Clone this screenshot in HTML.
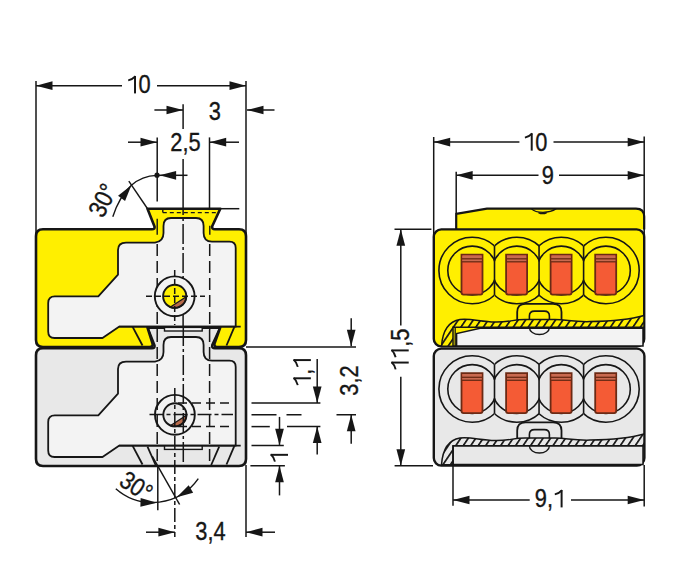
<!DOCTYPE html>
<html><head><meta charset="utf-8"><style>
html,body{margin:0;padding:0;background:#fff;font-family:"Liberation Sans",sans-serif;overflow:hidden;}
svg{display:block;}
</style></head><body>
<svg width="697" height="579" viewBox="0 0 697 579">
<defs><clipPath id="rc0_0"><rect x="430" y="230.5" width="64.5" height="80"/></clipPath><clipPath id="rc0_1"><rect x="494.5" y="230.5" width="44.549999999999955" height="80"/></clipPath><clipPath id="rc0_2"><rect x="539.05" y="230.5" width="44.55000000000007" height="80"/></clipPath><clipPath id="rc0_3"><rect x="583.6" y="230.5" width="66.39999999999998" height="80"/></clipPath><clipPath id="rc118_0"><rect x="430" y="349.0" width="64.5" height="80"/></clipPath><clipPath id="rc118_1"><rect x="494.5" y="349.0" width="44.549999999999955" height="80"/></clipPath><clipPath id="rc118_2"><rect x="539.05" y="349.0" width="44.55000000000007" height="80"/></clipPath><clipPath id="rc118_3"><rect x="583.6" y="349.0" width="66.39999999999998" height="80"/></clipPath><pattern id="hatchY" patternUnits="userSpaceOnUse" width="6.2" height="6.2" patternTransform="rotate(34)">
<rect width="6.2" height="6.2" fill="#ffef00"/><rect width="1.7" height="6.2" fill="#161616"/></pattern><pattern id="hatchG" patternUnits="userSpaceOnUse" width="6.2" height="6.2" patternTransform="rotate(34)">
<rect width="6.2" height="6.2" fill="#e8e8e8"/><rect width="1.7" height="6.2" fill="#161616"/></pattern></defs>
<rect width="697" height="579" fill="#fff"/>
<path d="M43,348.3 H152 Q155,348.3 154.5,345.5 L147.5,327.7 H220.3 L212.3,345 Q211.5,348.3 215,348.3 H239 Q246,348.3 246,355.3 V459 Q246,466 239,466 H43 Q36,466 36,459 V355.3 Q36,348.3 43,348.3 Z" fill="#e8e8e8" stroke="#161616" stroke-width="2.6" stroke-linejoin="round" />
<line x1="147.5" y1="446.6" x2="155.6" y2="465" stroke="#161616" stroke-width="1.8"/>
<line x1="219.2" y1="446.6" x2="211.2" y2="465" stroke="#161616" stroke-width="1.8"/>
<path d="M163.5,345 Q163.5,337 171,337 H196 Q203.6,337 203.6,345 V352 Q203.6,360.6 212,360.6 H229.5 Q235.7,360.6 235.7,367 V445.7 H119 L102.5,457 H54.5 Q48.2,457 48.2,450.5 V422 Q48.2,415.4 54.8,415.4 H98.3 L118,393.7 V369 Q118,361.6 126,361.6 H155 Q163.5,360.6 163.5,352 Z" fill="#f3f3f3" stroke="#161616" stroke-width="1.8" stroke-linejoin="round" />
<line x1="119" y1="445.7" x2="240.7" y2="445.7" stroke="#161616" stroke-width="1.8"/>
<line x1="132.5" y1="445.7" x2="142.5" y2="464.5" stroke="#161616" stroke-width="1.8"/>
<line x1="234.5" y1="445.7" x2="226.5" y2="464.5" stroke="#161616" stroke-width="1.8"/>
<path d="M43,229.3 H152 Q155,229.3 154.5,226.5 L147.5,208.7 H220.3 L212.3,226 Q211.5,229.3 215,229.3 H239 Q246,229.3 246,236.3 V340 Q246,347 239,347 H218 Q213.5,347 214.6,343.2 L220.2,327.6 H147.5 L152.4,343.2 Q153.5,347 149.5,347 H43 Q36,347 36,340 V236.3 Q36,229.3 43,229.3 Z" fill="#ffef00" stroke="#161616" stroke-width="2.6" stroke-linejoin="round" />
<path d="M163.5,226 Q163.5,218 171,218 H196 Q203.6,218 203.6,226 V233 Q203.6,241.6 212,241.6 H229.5 Q235.7,241.6 235.7,248 V326.7 H119 L102.5,338 H54.5 Q48.2,338 48.2,331.5 V303 Q48.2,296.4 54.8,296.4 H98.3 L118,274.7 V250 Q118,242.6 126,242.6 H155 Q163.5,241.6 163.5,233 Z" fill="#f3f3f3" stroke="#161616" stroke-width="1.8" stroke-linejoin="round" />
<line x1="119" y1="326.7" x2="240.7" y2="326.7" stroke="#161616" stroke-width="1.8"/>
<line x1="132.5" y1="326.7" x2="142.5" y2="345.5" stroke="#161616" stroke-width="1.8"/>
<line x1="234.5" y1="326.7" x2="226.5" y2="345.5" stroke="#161616" stroke-width="1.8"/>
<line x1="162.8" y1="208.7" x2="162.8" y2="212.6" stroke="#161616" stroke-width="1.4"/>
<line x1="162.8" y1="212.6" x2="216.5" y2="212.6" stroke="#161616" stroke-width="1.4" stroke-dasharray="4 3"/>
<rect x="164.5" y="327.4" width="37.7" height="3.6" fill="#f3f3f3" stroke="#161616" stroke-width="1.4"/>
<rect x="164.5" y="446" width="37.7" height="3.4" fill="#f3f3f3" stroke="#161616" stroke-width="1.4"/>
<line x1="157.2" y1="137.4" x2="157.2" y2="201.4" stroke="#161616" stroke-width="1.5"/>
<line x1="209.5" y1="137.4" x2="209.5" y2="208.7" stroke="#161616" stroke-width="1.5"/>
<line x1="220" y1="208.7" x2="239.3" y2="208.7" stroke="#161616" stroke-width="1.5"/>
<line x1="183.1" y1="104.3" x2="183.1" y2="129" stroke="#161616" stroke-width="1.5"/>
<line x1="183.1" y1="159" x2="183.1" y2="195" stroke="#161616" stroke-width="1.5"/>
<line x1="157.2" y1="244" x2="157.2" y2="330" stroke="#161616" stroke-width="1.5" stroke-dasharray="12 5"/>
<line x1="209.7" y1="244" x2="209.7" y2="330" stroke="#161616" stroke-width="1.5" stroke-dasharray="12 5"/>
<line x1="183.1" y1="195" x2="183.1" y2="326" stroke="#161616" stroke-width="1.5" stroke-dasharray="20 3 3 3"/>
<line x1="157.2" y1="218.8" x2="157.2" y2="234.7" stroke="#161616" stroke-width="1.4"/>
<line x1="209.8" y1="225.7" x2="209.8" y2="234.7" stroke="#161616" stroke-width="1.4"/>
<circle cx="174.7" cy="296.3" r="19.9" fill="#f3f3f3" stroke="#161616" stroke-width="1.9"/>
<circle cx="174.7" cy="296.3" r="11.6" fill="#ffef00"/>
<path d="M186.29,296.70 A11.6,11.6 0 0 1 170.35,307.06 Z" fill="#b86a4a" stroke="#161616" stroke-width="1.3"/>
<circle cx="174.7" cy="296.3" r="11.6" fill="none" stroke="#161616" stroke-width="1.9"/>
<circle cx="174.9" cy="414.8" r="19.9" fill="#f3f3f3" stroke="#161616" stroke-width="1.9"/>
<circle cx="174.9" cy="414.8" r="11.6" fill="#e9e9e9"/>
<path d="M186.49,415.20 A11.6,11.6 0 0 1 170.55,425.56 Z" fill="#b86a4a" stroke="#161616" stroke-width="1.3"/>
<circle cx="174.9" cy="414.8" r="11.6" fill="none" stroke="#161616" stroke-width="1.9"/>
<line x1="146" y1="296.3" x2="205" y2="296.3" stroke="#161616" stroke-width="1.5" stroke-dasharray="6 3"/>
<line x1="174.7" y1="270" x2="174.7" y2="325" stroke="#161616" stroke-width="1.5" stroke-dasharray="6 3"/>
<line x1="157.2" y1="330" x2="157.2" y2="465" stroke="#161616" stroke-width="1.5" stroke-dasharray="12 5"/>
<line x1="209.6" y1="330" x2="209.6" y2="465" stroke="#161616" stroke-width="1.5" stroke-dasharray="12 5"/>
<line x1="183.3" y1="326" x2="183.3" y2="464" stroke="#161616" stroke-width="1.5" stroke-dasharray="20 3 3 3"/>
<line x1="149.5" y1="414.5" x2="233" y2="414.5" stroke="#161616" stroke-width="1.5" stroke-dasharray="14 3 4 3"/>
<line x1="174.8" y1="388" x2="174.8" y2="537" stroke="#161616" stroke-width="1.5" stroke-dasharray="14 3 4 3"/>
<line x1="178" y1="402.9" x2="232" y2="402.9" stroke="#161616" stroke-width="1.5" stroke-dasharray="9 5"/>
<line x1="178" y1="426.6" x2="232" y2="426.6" stroke="#161616" stroke-width="1.5" stroke-dasharray="9 5"/>
<line x1="36" y1="81" x2="36" y2="238" stroke="#161616" stroke-width="1.5"/>
<line x1="246" y1="81" x2="246" y2="238" stroke="#161616" stroke-width="1.5"/>
<line x1="246" y1="465" x2="246" y2="537" stroke="#161616" stroke-width="1.5"/>
<line x1="36" y1="85.7" x2="122" y2="85.7" stroke="#161616" stroke-width="1.5"/>
<line x1="157" y1="85.7" x2="246" y2="85.7" stroke="#161616" stroke-width="1.5"/>
<polygon points="36.00,85.70 52.50,81.35 52.50,90.05" fill="#161616"/>
<polygon points="246.00,85.70 229.50,90.05 229.50,81.35" fill="#161616"/>
<g transform="translate(139.25,84.65) rotate(0) scale(0.86,1) translate(-14.88,8.76)"><path d="M9.96,0 V-17.40" fill="none" stroke="#161616" stroke-width="2.3"/><path d="M10.46,-17.14 Q7.62,-14.35 2.03,-13.08" fill="none" stroke="#161616" stroke-width="1.9"/><text x="14.12" y="0" font-size="25.4" font-family="Liberation Sans" fill="#161616" stroke="#161616" stroke-width="0.35">0</text></g>
<line x1="154.4" y1="110" x2="183" y2="110" stroke="#161616" stroke-width="1.5"/>
<polygon points="183.00,110.00 166.50,114.35 166.50,105.65" fill="#161616"/>
<line x1="247" y1="110" x2="274.5" y2="110" stroke="#161616" stroke-width="1.5"/>
<polygon points="247.00,110.00 263.50,105.65 263.50,114.35" fill="#161616"/>
<g transform="translate(214.65,111.3) rotate(0) scale(0.86,1) translate(-6.97,8.76)"><text x="0.00" y="0" font-size="25.4" font-family="Liberation Sans" fill="#161616" stroke="#161616" stroke-width="0.35">3</text></g>
<line x1="128" y1="142.2" x2="157" y2="142.2" stroke="#161616" stroke-width="1.5"/>
<polygon points="157.00,142.20 140.50,146.55 140.50,137.85" fill="#161616"/>
<line x1="209.7" y1="142.2" x2="239" y2="142.2" stroke="#161616" stroke-width="1.5"/>
<polygon points="209.70,142.20 226.20,137.85 226.20,146.55" fill="#161616"/>
<g transform="translate(185.6,142.7) rotate(0) scale(0.86,1) translate(-17.74,8.76)"><text x="0.00" y="0" font-size="25.4" font-family="Liberation Sans" fill="#161616" stroke="#161616" stroke-width="0.35">2</text><text x="14.12" y="0" font-size="25.4" font-family="Liberation Sans" fill="#161616" stroke="#161616" stroke-width="0.35">,</text><text x="21.18" y="0" font-size="25.4" font-family="Liberation Sans" fill="#161616" stroke="#161616" stroke-width="0.35">5</text></g>
<circle cx="157" cy="175.2" r="2.6" fill="#161616"/>
<line x1="159" y1="175.3" x2="187.5" y2="175.3" stroke="#161616" stroke-width="1.5"/>
<polygon points="159.60,175.30 176.10,170.95 176.10,179.65" fill="#161616"/>
<path d="M156.8,175.4 Q142,176 131.4,185.2 Q119,197 112.8,216.8" fill="none" stroke="#161616" stroke-width="1.4"/>
<polygon points="131.40,185.20 125.05,201.04 118.07,195.85" fill="#161616"/>
<line x1="128.8" y1="181.1" x2="148.4" y2="210" stroke="#161616" stroke-width="1.4"/>
<g transform="translate(102.55,200.45) rotate(-63) scale(0.86,1) translate(-18.91,8.76)"><text x="0.00" y="0" font-size="25.4" font-family="Liberation Sans" fill="#161616" stroke="#161616" stroke-width="0.35">3</text><text x="14.12" y="0" font-size="25.4" font-family="Liberation Sans" fill="#161616" stroke="#161616" stroke-width="0.35">0</text><text x="28.24" y="0" font-size="25.4" font-family="Liberation Sans" fill="#161616" stroke="#161616" stroke-width="0.35">°</text></g>
<line x1="246" y1="346.9" x2="356" y2="346.9" stroke="#161616" stroke-width="1.5"/>
<line x1="351.2" y1="318.3" x2="351.2" y2="346.3" stroke="#161616" stroke-width="1.5"/>
<polygon points="351.20,346.30 346.85,329.80 355.55,329.80" fill="#161616"/>
<g transform="translate(302.1,371.85) rotate(-90) scale(0.86,1) translate(-17.45,8.76)"><path d="M9.96,0 V-17.40" fill="none" stroke="#161616" stroke-width="2.3"/><path d="M10.46,-17.14 Q7.62,-14.35 2.03,-13.08" fill="none" stroke="#161616" stroke-width="1.9"/><text x="14.12" y="0" font-size="25.4" font-family="Liberation Sans" fill="#161616" stroke="#161616" stroke-width="0.35">,</text><path d="M31.14,0 V-17.40" fill="none" stroke="#161616" stroke-width="2.3"/><path d="M31.65,-17.14 Q28.80,-14.35 23.22,-13.08" fill="none" stroke="#161616" stroke-width="1.9"/></g>
<line x1="317.2" y1="359" x2="317.2" y2="402.9" stroke="#161616" stroke-width="1.5"/>
<polygon points="317.20,402.90 312.85,386.40 321.55,386.40" fill="#161616"/>
<line x1="251.5" y1="402.9" x2="320.4" y2="402.9" stroke="#161616" stroke-width="1.5"/>
<g transform="translate(349.7,380.7) rotate(-90) scale(0.86,1) translate(-17.49,8.76)"><text x="0.00" y="0" font-size="25.4" font-family="Liberation Sans" fill="#161616" stroke="#161616" stroke-width="0.35">3</text><text x="14.12" y="0" font-size="25.4" font-family="Liberation Sans" fill="#161616" stroke="#161616" stroke-width="0.35">,</text><text x="21.18" y="0" font-size="25.4" font-family="Liberation Sans" fill="#161616" stroke="#161616" stroke-width="0.35">2</text></g>
<line x1="251.5" y1="414.7" x2="356" y2="414.7" stroke="#161616" stroke-width="1.5" stroke-dasharray="25 10 15 35 20"/>
<line x1="351.2" y1="414.7" x2="351.2" y2="443.8" stroke="#161616" stroke-width="1.5"/>
<polygon points="351.20,414.70 355.55,431.20 346.85,431.20" fill="#161616"/>
<line x1="251.5" y1="426.6" x2="269.8" y2="426.6" stroke="#161616" stroke-width="1.5"/>
<line x1="287" y1="426.6" x2="320.4" y2="426.6" stroke="#161616" stroke-width="1.5"/>
<line x1="317.2" y1="426.6" x2="317.2" y2="454.6" stroke="#161616" stroke-width="1.5"/>
<polygon points="317.20,426.60 321.55,443.10 312.85,443.10" fill="#161616"/>
<line x1="279.5" y1="416.9" x2="279.5" y2="444.9" stroke="#161616" stroke-width="1.5"/>
<polygon points="279.50,445.30 275.15,428.80 283.85,428.80" fill="#161616"/>
<line x1="251.5" y1="445.5" x2="283.8" y2="445.5" stroke="#161616" stroke-width="1.5"/>
<g transform="translate(279.25,457.5) rotate(-90) scale(0.86,1) translate(-6.86,8.76)"><path d="M9.96,0 V-17.40" fill="none" stroke="#161616" stroke-width="2.3"/><path d="M10.46,-17.14 Q7.62,-14.35 2.03,-13.08" fill="none" stroke="#161616" stroke-width="1.9"/></g>
<line x1="250.4" y1="465.7" x2="284.9" y2="465.7" stroke="#161616" stroke-width="1.5"/>
<line x1="279.5" y1="465.7" x2="279.5" y2="495.4" stroke="#161616" stroke-width="1.5"/>
<polygon points="279.50,465.70 283.85,482.20 275.15,482.20" fill="#161616"/>
<line x1="157.8" y1="466" x2="157.8" y2="510.2" stroke="#161616" stroke-width="1.5"/>
<line x1="152.3" y1="456.4" x2="179.6" y2="504.5" stroke="#161616" stroke-width="1.5"/>
<path d="M115.8,488.7 A55.83,55.83 0 0 0 198.3,478.7" fill="none" stroke="#161616" stroke-width="1.4"/>
<polygon points="157.00,502.80 140.38,506.65 140.64,497.96" fill="#161616"/>
<polygon points="176.70,497.30 188.71,485.18 193.13,492.68" fill="#161616"/>
<g transform="translate(136.1,486) rotate(33) scale(0.86,1) translate(-18.91,8.76)"><text x="0.00" y="0" font-size="25.4" font-family="Liberation Sans" fill="#161616" stroke="#161616" stroke-width="0.35">3</text><text x="14.12" y="0" font-size="25.4" font-family="Liberation Sans" fill="#161616" stroke="#161616" stroke-width="0.35">0</text><text x="28.24" y="0" font-size="25.4" font-family="Liberation Sans" fill="#161616" stroke="#161616" stroke-width="0.35">°</text></g>
<line x1="146" y1="532.2" x2="174.9" y2="532.2" stroke="#161616" stroke-width="1.5"/>
<polygon points="174.90,532.20 158.40,536.55 158.40,527.85" fill="#161616"/>
<line x1="246" y1="532.2" x2="275" y2="532.2" stroke="#161616" stroke-width="1.5"/>
<polygon points="246.00,532.20 262.50,527.85 262.50,536.55" fill="#161616"/>
<g transform="translate(210.6,531.5) rotate(0) scale(0.86,1) translate(-17.75,8.76)"><text x="0.00" y="0" font-size="25.4" font-family="Liberation Sans" fill="#161616" stroke="#161616" stroke-width="0.35">3</text><text x="14.12" y="0" font-size="25.4" font-family="Liberation Sans" fill="#161616" stroke="#161616" stroke-width="0.35">,</text><text x="21.18" y="0" font-size="25.4" font-family="Liberation Sans" fill="#161616" stroke="#161616" stroke-width="0.35">4</text></g>
<path d="M456.2,229.4 V213.8 L487,208.6 H636 Q644.2,208.6 644.2,216.8 V229.4" fill="#ffef00" stroke="#161616" stroke-width="2.2" stroke-linejoin="round" />
<rect x="433.8" y="229.4" width="210.4" height="117" rx="7.5" fill="#ffef00" stroke="#161616" stroke-width="2.4"/>
<path d="M531.2,208.6 Q535,212.3 543,212.3 Q551,212.3 556.2,208.6" fill="none" stroke="#161616" stroke-width="1.3"/>
<path d="M538.5,212.6 Q542.6,214.8 546.7,212.6" fill="none" stroke="#161616" stroke-width="1.3"/>
<rect x="433.8" y="348.6" width="210.6" height="117" rx="7.5" fill="#e8e8e8" stroke="#161616" stroke-width="2.4"/>
<g clip-path="url(#rc0_0)"><circle cx="472.2" cy="270.5" r="33.3" fill="none" stroke="#161616" stroke-width="1.6"/><circle cx="472.2" cy="270.5" r="24.4" fill="none" stroke="#161616" stroke-width="1.6"/></g>
<g clip-path="url(#rc0_1)"><circle cx="516.8" cy="270.5" r="33.3" fill="none" stroke="#161616" stroke-width="1.6"/><circle cx="516.8" cy="270.5" r="24.4" fill="none" stroke="#161616" stroke-width="1.6"/></g>
<g clip-path="url(#rc0_2)"><circle cx="561.3" cy="270.5" r="33.3" fill="none" stroke="#161616" stroke-width="1.6"/><circle cx="561.3" cy="270.5" r="24.4" fill="none" stroke="#161616" stroke-width="1.6"/></g>
<g clip-path="url(#rc0_3)"><circle cx="605.9" cy="270.5" r="33.3" fill="none" stroke="#161616" stroke-width="1.6"/><circle cx="605.9" cy="270.5" r="24.4" fill="none" stroke="#161616" stroke-width="1.6"/></g>
<line x1="494.5" y1="245.9" x2="494.5" y2="295.1" stroke="#161616" stroke-width="1.6"/>
<line x1="539.05" y1="245.9" x2="539.05" y2="295.1" stroke="#161616" stroke-width="1.6"/>
<line x1="583.6" y1="245.9" x2="583.6" y2="295.1" stroke="#161616" stroke-width="1.6"/>
<path d="M461.5,254.6 H482.5 V292.6 Q482.5,294.6 480.5,294.6 H463.5 Q461.5,294.6 461.5,292.6 Z" fill="#f45b35" stroke="#6b2a14" stroke-width="1.8"/>
<rect x="462.4" y="255.5" width="19.2" height="6.6" fill="#c96a50"/>
<line x1="461.5" y1="258.8" x2="482.5" y2="258.8" stroke="#6b2a14" stroke-width="1.3"/>
<line x1="461.5" y1="261.8" x2="482.5" y2="261.8" stroke="#6b2a14" stroke-width="1.3"/>
<path d="M506.1,254.6 H527.1 V292.6 Q527.1,294.6 525.1,294.6 H508.1 Q506.1,294.6 506.1,292.6 Z" fill="#f45b35" stroke="#6b2a14" stroke-width="1.8"/>
<rect x="507.0" y="255.5" width="19.2" height="6.6" fill="#c96a50"/>
<line x1="506.09999999999997" y1="258.8" x2="527.0999999999999" y2="258.8" stroke="#6b2a14" stroke-width="1.3"/>
<line x1="506.09999999999997" y1="261.8" x2="527.0999999999999" y2="261.8" stroke="#6b2a14" stroke-width="1.3"/>
<path d="M550.6,254.6 H571.6 V292.6 Q571.6,294.6 569.6,294.6 H552.6 Q550.6,294.6 550.6,292.6 Z" fill="#f45b35" stroke="#6b2a14" stroke-width="1.8"/>
<rect x="551.5" y="255.5" width="19.2" height="6.6" fill="#c96a50"/>
<line x1="550.5999999999999" y1="258.8" x2="571.5999999999999" y2="258.8" stroke="#6b2a14" stroke-width="1.3"/>
<line x1="550.5999999999999" y1="261.8" x2="571.5999999999999" y2="261.8" stroke="#6b2a14" stroke-width="1.3"/>
<path d="M595.2,254.6 H616.2 V292.6 Q616.2,294.6 614.2,294.6 H597.2 Q595.2,294.6 595.2,292.6 Z" fill="#f45b35" stroke="#6b2a14" stroke-width="1.8"/>
<rect x="596.1" y="255.5" width="19.2" height="6.6" fill="#c96a50"/>
<line x1="595.1999999999999" y1="258.8" x2="616.1999999999999" y2="258.8" stroke="#6b2a14" stroke-width="1.3"/>
<line x1="595.1999999999999" y1="261.8" x2="616.1999999999999" y2="261.8" stroke="#6b2a14" stroke-width="1.3"/>
<g clip-path="url(#rc118_0)"><circle cx="472.2" cy="389.0" r="33.3" fill="none" stroke="#161616" stroke-width="1.6"/><circle cx="472.2" cy="389.0" r="24.4" fill="none" stroke="#161616" stroke-width="1.6"/></g>
<g clip-path="url(#rc118_1)"><circle cx="516.8" cy="389.0" r="33.3" fill="none" stroke="#161616" stroke-width="1.6"/><circle cx="516.8" cy="389.0" r="24.4" fill="none" stroke="#161616" stroke-width="1.6"/></g>
<g clip-path="url(#rc118_2)"><circle cx="561.3" cy="389.0" r="33.3" fill="none" stroke="#161616" stroke-width="1.6"/><circle cx="561.3" cy="389.0" r="24.4" fill="none" stroke="#161616" stroke-width="1.6"/></g>
<g clip-path="url(#rc118_3)"><circle cx="605.9" cy="389.0" r="33.3" fill="none" stroke="#161616" stroke-width="1.6"/><circle cx="605.9" cy="389.0" r="24.4" fill="none" stroke="#161616" stroke-width="1.6"/></g>
<line x1="494.5" y1="364.4" x2="494.5" y2="413.6" stroke="#161616" stroke-width="1.6"/>
<line x1="539.05" y1="364.4" x2="539.05" y2="413.6" stroke="#161616" stroke-width="1.6"/>
<line x1="583.6" y1="364.4" x2="583.6" y2="413.6" stroke="#161616" stroke-width="1.6"/>
<path d="M461.5,373.1 H482.5 V411.1 Q482.5,413.1 480.5,413.1 H463.5 Q461.5,413.1 461.5,411.1 Z" fill="#f45b35" stroke="#6b2a14" stroke-width="1.8"/>
<rect x="462.4" y="374.0" width="19.2" height="6.6" fill="#c96a50"/>
<line x1="461.5" y1="377.3" x2="482.5" y2="377.3" stroke="#6b2a14" stroke-width="1.3"/>
<line x1="461.5" y1="380.3" x2="482.5" y2="380.3" stroke="#6b2a14" stroke-width="1.3"/>
<path d="M506.1,373.1 H527.1 V411.1 Q527.1,413.1 525.1,413.1 H508.1 Q506.1,413.1 506.1,411.1 Z" fill="#f45b35" stroke="#6b2a14" stroke-width="1.8"/>
<rect x="507.0" y="374.0" width="19.2" height="6.6" fill="#c96a50"/>
<line x1="506.09999999999997" y1="377.3" x2="527.0999999999999" y2="377.3" stroke="#6b2a14" stroke-width="1.3"/>
<line x1="506.09999999999997" y1="380.3" x2="527.0999999999999" y2="380.3" stroke="#6b2a14" stroke-width="1.3"/>
<path d="M550.6,373.1 H571.6 V411.1 Q571.6,413.1 569.6,413.1 H552.6 Q550.6,413.1 550.6,411.1 Z" fill="#f45b35" stroke="#6b2a14" stroke-width="1.8"/>
<rect x="551.5" y="374.0" width="19.2" height="6.6" fill="#c96a50"/>
<line x1="550.5999999999999" y1="377.3" x2="571.5999999999999" y2="377.3" stroke="#6b2a14" stroke-width="1.3"/>
<line x1="550.5999999999999" y1="380.3" x2="571.5999999999999" y2="380.3" stroke="#6b2a14" stroke-width="1.3"/>
<path d="M595.2,373.1 H616.2 V411.1 Q616.2,413.1 614.2,413.1 H597.2 Q595.2,413.1 595.2,411.1 Z" fill="#f45b35" stroke="#6b2a14" stroke-width="1.8"/>
<rect x="596.1" y="374.0" width="19.2" height="6.6" fill="#c96a50"/>
<line x1="595.1999999999999" y1="377.3" x2="616.1999999999999" y2="377.3" stroke="#6b2a14" stroke-width="1.3"/>
<line x1="595.1999999999999" y1="380.3" x2="616.1999999999999" y2="380.3" stroke="#6b2a14" stroke-width="1.3"/>
<path d="M517.2,321 V312 Q517.2,303.8 525.5,303.8 H553 Q561.5,303.8 561.5,312 V321" fill="#ffef00" stroke="#161616" stroke-width="1.8" stroke-linejoin="round" />
<path d="M456.6,346 V333.6 L480.2,328.3 H643 V346 Z" fill="#f3f3f3" stroke="#161616" stroke-width="1.5"/>
<line x1="455.2" y1="328" x2="455.2" y2="346.2" stroke="#161616" stroke-width="1.3"/>
<path d="M441.5,346.2 C442.5,332 448,321.5 460,319.5 C470,318.2 480,321.5 495,322 C508,322.3 512,319.8 525,319.6 L555,319.6 C568,319.8 572,322 590,321.6 C610,321.2 628,320 644,315.5 V327.2 H453 V346.2 Z" fill="url(#hatchY)" stroke="#161616" stroke-width="1.5"/>
<path d="M529.4,320 V316 Q529.4,311.1 534.5,311.1 H544.3 Q549.4,311.1 549.4,316 V320" fill="none" stroke="#161616" stroke-width="1.6" stroke-linejoin="round" />
<path d="M529.4,327.5 A10,7 0 0 0 549.4,327.5" fill="none" stroke="#161616" stroke-width="1.4"/>
<path d="M517.2,439.5 V430.5 Q517.2,422.3 525.5,422.3 H553 Q561.5,422.3 561.5,430.5 V439.5" fill="#e8e8e8" stroke="#161616" stroke-width="1.8" stroke-linejoin="round" />
<path d="M452.8,464.5 V445.7 H643 V464.5 Z" fill="#e8e8e8" stroke="#161616" stroke-width="1.5"/>
<path d="M441.5,464.7 C442.5,450.5 448,440.0 460,438.0 C470,436.7 480,440.0 495,440.5 C508,440.8 512,438.3 525,438.1 L555,438.1 C568,438.3 572,440.5 590,440.1 C610,439.7 628,438.5 644,434.0 V445.7 H453 V464.7 Z" fill="url(#hatchG)" stroke="#161616" stroke-width="1.5"/>
<path d="M529.4,438.5 V434.5 Q529.4,429.6 534.5,429.6 H544.3 Q549.4,429.6 549.4,434.5 V438.5" fill="none" stroke="#161616" stroke-width="1.6" stroke-linejoin="round" />
<path d="M529.4,446.0 A10,7 0 0 0 549.4,446.0" fill="none" stroke="#161616" stroke-width="1.4"/>
<line x1="433.7" y1="137" x2="433.7" y2="238" stroke="#161616" stroke-width="1.5"/>
<line x1="644.2" y1="136.6" x2="644.2" y2="240" stroke="#161616" stroke-width="1.5"/>
<line x1="433.7" y1="142.1" x2="519.4" y2="142.1" stroke="#161616" stroke-width="1.5"/>
<line x1="553.5" y1="142.1" x2="644.2" y2="142.1" stroke="#161616" stroke-width="1.5"/>
<polygon points="433.70,142.10 450.20,137.75 450.20,146.45" fill="#161616"/>
<polygon points="644.20,142.10 627.70,146.45 627.70,137.75" fill="#161616"/>
<g transform="translate(535.95,141.9) rotate(0) scale(0.86,1) translate(-14.88,8.76)"><path d="M9.96,0 V-17.40" fill="none" stroke="#161616" stroke-width="2.3"/><path d="M10.46,-17.14 Q7.62,-14.35 2.03,-13.08" fill="none" stroke="#161616" stroke-width="1.9"/><text x="14.12" y="0" font-size="25.4" font-family="Liberation Sans" fill="#161616" stroke="#161616" stroke-width="0.35">0</text></g>
<line x1="456.2" y1="171.8" x2="456.2" y2="213.8" stroke="#161616" stroke-width="1.5"/>
<line x1="456.2" y1="175.3" x2="538.5" y2="175.3" stroke="#161616" stroke-width="1.5"/>
<line x1="559" y1="175.3" x2="644.2" y2="175.3" stroke="#161616" stroke-width="1.5"/>
<polygon points="456.20,175.30 472.70,170.95 472.70,179.65" fill="#161616"/>
<polygon points="644.20,175.30 627.70,179.65 627.70,170.95" fill="#161616"/>
<g transform="translate(547.75,174.9) rotate(0) scale(0.86,1) translate(-7.05,8.76)"><text x="0.00" y="0" font-size="25.4" font-family="Liberation Sans" fill="#161616" stroke="#161616" stroke-width="0.35">9</text></g>
<line x1="394.5" y1="229.3" x2="431.4" y2="229.3" stroke="#161616" stroke-width="1.5"/>
<line x1="394.6" y1="465.8" x2="433" y2="465.8" stroke="#161616" stroke-width="1.5"/>
<line x1="400.8" y1="229.3" x2="400.8" y2="325.4" stroke="#161616" stroke-width="1.5"/>
<line x1="400.8" y1="376.8" x2="400.8" y2="465.8" stroke="#161616" stroke-width="1.5"/>
<polygon points="400.80,229.30 405.15,245.80 396.45,245.80" fill="#161616"/>
<polygon points="400.80,465.80 396.45,449.30 405.15,449.30" fill="#161616"/>
<g transform="translate(399.95,349.25) rotate(-90) scale(0.86,1) translate(-25.44,8.76)"><path d="M9.96,0 V-17.40" fill="none" stroke="#161616" stroke-width="2.3"/><path d="M10.46,-17.14 Q7.62,-14.35 2.03,-13.08" fill="none" stroke="#161616" stroke-width="1.9"/><path d="M24.08,0 V-17.40" fill="none" stroke="#161616" stroke-width="2.3"/><path d="M24.59,-17.14 Q21.74,-14.35 16.15,-13.08" fill="none" stroke="#161616" stroke-width="1.9"/><text x="28.24" y="0" font-size="25.4" font-family="Liberation Sans" fill="#161616" stroke="#161616" stroke-width="0.35">,</text><text x="35.31" y="0" font-size="25.4" font-family="Liberation Sans" fill="#161616" stroke="#161616" stroke-width="0.35">5</text></g>
<line x1="453" y1="445.5" x2="453" y2="505.7" stroke="#161616" stroke-width="1.5"/>
<line x1="644.2" y1="465" x2="644.2" y2="506.5" stroke="#161616" stroke-width="1.5"/>
<line x1="453" y1="500" x2="529.7" y2="500" stroke="#161616" stroke-width="1.5"/>
<line x1="571" y1="500" x2="644.2" y2="500" stroke="#161616" stroke-width="1.5"/>
<polygon points="453.00,500.00 469.50,495.65 469.50,504.35" fill="#161616"/>
<polygon points="644.20,500.00 627.70,504.35 627.70,495.65" fill="#161616"/>
<g transform="translate(549.25,498.65) rotate(0) scale(0.86,1) translate(-16.78,8.76)"><text x="0.00" y="0" font-size="25.4" font-family="Liberation Sans" fill="#161616" stroke="#161616" stroke-width="0.35">9</text><text x="14.12" y="0" font-size="25.4" font-family="Liberation Sans" fill="#161616" stroke="#161616" stroke-width="0.35">,</text><path d="M31.14,0 V-17.40" fill="none" stroke="#161616" stroke-width="2.3"/><path d="M31.65,-17.14 Q28.80,-14.35 23.22,-13.08" fill="none" stroke="#161616" stroke-width="1.9"/></g>
</svg></body></html>
